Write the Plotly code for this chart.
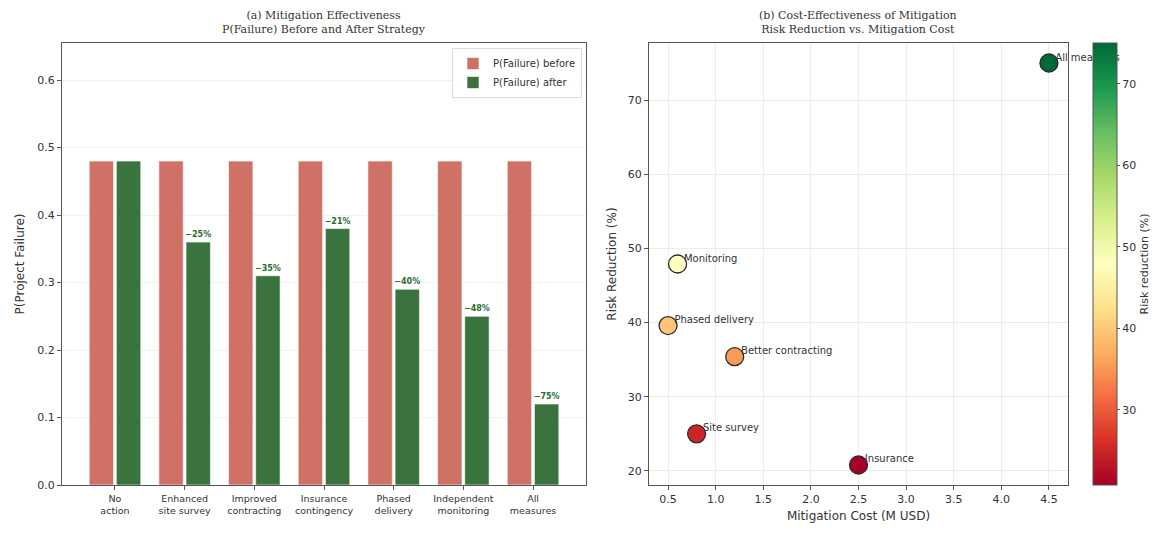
import plotly.graph_objects as go

# ---- data ---------------------------------------------------------------
strategies = ["No<br>action", "Enhanced<br>site survey", "Improved<br>contracting",
              "Insurance<br>contingency", "Phased<br>delivery",
              "Independent<br>monitoring", "All<br>measures"]
p_before = [0.48, 0.48, 0.48, 0.48, 0.48, 0.48, 0.48]
p_after = [0.48, 0.36, 0.31, 0.38, 0.29, 0.25, 0.12]

measure_names = ["Site survey", "Better contracting", "Insurance",
                 "Phased delivery", "Monitoring", "All measures"]
mitigation_cost = [0.8, 1.2, 2.5, 0.5, 0.6, 4.5]
risk_reduction = [25.0, 35.4, 20.8, 39.6, 47.9, 75.0]

# ---- layout helpers -----------------------------------------------------
W, H = 1160, 533
def px_x(v):
    return v / W
def px_y(v):
    return 1 - v / H

SANS = "DejaVu Sans"
SERIF = "DejaVu Serif"
TXT = "#333333"
FRAME = "#555555"

RED = "#d07165"
GREEN = "#3a733d"

fig = go.Figure()

# change labels computed from the two probabilities
pct_labels = []
for b, a in zip(p_before, p_after):
    change = round((a - b) / b * 100)
    pct_labels.append("" if change == 0 else "\u2212%d%%" % abs(change))

fig.add_trace(go.Bar(
    x=strategies, y=p_before, name="P(Failure) before",
    marker=dict(color=RED, line=dict(color="white", width=0.6)),
    offset=-0.37, width=0.35, xaxis="x", yaxis="y",
))
fig.add_trace(go.Bar(
    x=strategies, y=p_after, name="P(Failure) after",
    marker=dict(color=GREEN, line=dict(color="white", width=0.6)),
    offset=0.02, width=0.35, xaxis="x", yaxis="y",
    text=pct_labels, textposition="outside", constraintext="none",
    textfont=dict(family=SANS, size=8, color="#2a6b2e", weight="bold"),
    cliponaxis=False,
))

# scatter of cost vs. risk reduction
fig.add_trace(go.Scatter(
    x=mitigation_cost, y=risk_reduction, mode="markers",
    xaxis="x2", yaxis="y2", showlegend=False,
    marker=dict(
        size=18, color=risk_reduction, colorscale="RdYlGn",
        cmin=min(risk_reduction), cmax=max(risk_reduction),
        line=dict(color="#2b2b2b", width=1.3),
        colorbar=dict(
            x=px_x(1093), xanchor="left", xpad=0,
            y=px_y(485), yanchor="bottom", ypad=0,
            len=(485 - 43) / H, lenmode="fraction",
            thickness=24, thicknessmode="pixels",
            outlinewidth=1, outlinecolor=FRAME,
            tickvals=[30, 40, 50, 60, 70], ticks="outside", ticklen=3,
            tickcolor=FRAME,
            tickfont=dict(family=SANS, size=11, color=TXT),
            title=dict(text="Risk reduction (%)", side="right",
                       font=dict(family=SANS, size=11, color=TXT)),
        ),
    ),
))
fig.add_trace(go.Scatter(
    x=mitigation_cost, y=risk_reduction, mode="text",
    text=["\u00a0\u00a0" + n for n in measure_names],
    textposition="top right", cliponaxis=False,
    textfont=dict(family=SANS, size=10, color=TXT),
    xaxis="x2", yaxis="y2", showlegend=False, hoverinfo="skip",
))

axis_common = dict(
    showline=True, linecolor=FRAME, linewidth=1.2, mirror=True,
    ticks="outside", ticklen=4, tickcolor=FRAME, zeroline=False,
    tickfont=dict(family=SANS, size=11, color=TXT),
)

fig.update_layout(
    width=W, height=H,
    margin=dict(l=0, r=0, t=0, b=0, autoexpand=False),
    paper_bgcolor="white", plot_bgcolor="white",
    barmode="overlay",
    showlegend=True,
    legend=dict(
        x=px_x(582), xanchor="right", y=px_y(48), yanchor="top",
        bgcolor="rgba(255,255,255,0.9)", bordercolor="#dddddd", borderwidth=1,
        font=dict(family=SANS, size=10, color=TXT),
        itemwidth=30, tracegroupgap=0,
    ),
    xaxis=dict(
        domain=[px_x(62), px_x(586)], range=[-0.76, 6.76],
        type="category", showgrid=False,
        **{**axis_common, "tickfont": dict(family=SANS, size=9.5, color=TXT)},
    ),
    yaxis=dict(
        domain=[px_y(485), px_y(43)], range=[0, 0.655],
        tickvals=[0, 0.1, 0.2, 0.3, 0.4, 0.5, 0.6], tickformat=".1f",
        showgrid=True, gridcolor="#f2f2f2", gridwidth=1,
        title=dict(text="P(Project Failure)", standoff=10,
                   font=dict(family=SANS, size=12, color=TXT)),
        **axis_common,
    ),
    xaxis2=dict(
        domain=[px_x(649), px_x(1068)], range=[0.3, 4.7], anchor="y2",
        tickvals=[0.5, 1.0, 1.5, 2.0, 2.5, 3.0, 3.5, 4.0, 4.5], tickformat=".1f",
        showgrid=True, gridcolor="#ececec", gridwidth=1,
        title=dict(text="Mitigation Cost (M USD)", standoff=6,
                   font=dict(family=SANS, size=12, color=TXT)),
        **axis_common,
    ),
    yaxis2=dict(
        domain=[px_y(485), px_y(43)], range=[18.1, 77.7], anchor="x2",
        tickvals=[20, 30, 40, 50, 60, 70],
        showgrid=True, gridcolor="#ececec", gridwidth=1,
        title=dict(text="Risk Reduction (%)", standoff=8,
                   font=dict(family=SANS, size=12, color=TXT)),
        **axis_common,
    ),
    annotations=[
        dict(text="(a) Mitigation Effectiveness<br>P(Failure) Before and After Strategy",
             x=px_x(324), y=px_y(38), xref="paper", yref="paper",
             xanchor="center", yanchor="bottom", showarrow=False,
             font=dict(family=SERIF, size=11, color=TXT)),
        dict(text="(b) Cost-Effectiveness of Mitigation<br>Risk Reduction vs. Mitigation Cost",
             x=px_x(858), y=px_y(38), xref="paper", yref="paper",
             xanchor="center", yanchor="bottom", showarrow=False,
             font=dict(family=SERIF, size=11, color=TXT)),
    ],
)

fig.write_html("out.html")
